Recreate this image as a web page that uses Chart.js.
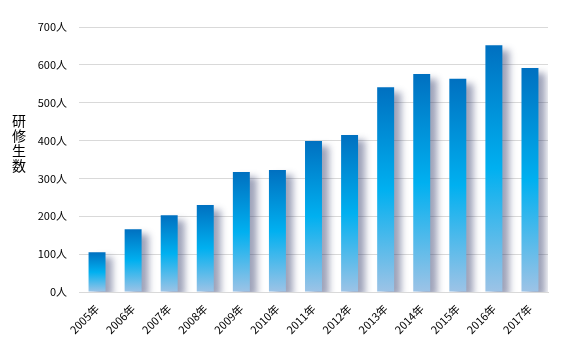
<!DOCTYPE html>
<html>
<head>
<meta charset="utf-8">
<script src="https://cdn.jsdelivr.net/npm/chart.js@4"></script>
<style>
  html, body { margin: 0; padding: 0; background: #fff; }
  #wrap { width: 564px; height: 345px; }
</style>
</head>
<body>
<div id="wrap"><canvas id="bar_chart" width="564" height="345"></canvas></div>
<script>
"use strict";

// data
var years = ["2005年", "2006年", "2007年", "2008年", "2009年", "2010年", "2011年",
             "2012年", "2013年", "2014年", "2015年", "2016年", "2017年"];
var trainees = [105, 166, 203, 230, 317, 322, 399, 415, 541, 576, 563, 652, 592];
var yTicks = [0, 100, 200, 300, 400, 500, 600, 700];
var yTitle = ["研", "修", "生", "数"];

var FONT = "'Noto Sans CJK JP', 'Noto Sans', sans-serif";

/*-- gradient per bar, from the bar's own top to the zero line --*/
function barGradient(ctx) {
  var chart = ctx.chart;
  if (!chart.chartArea || ctx.dataIndex === undefined) return '#00b0f0';
  var y = chart.scales.y;
  var top = y.getPixelForValue(trainees[ctx.dataIndex]);
  var bottom = y.getPixelForValue(0);
  var g = chart.ctx.createLinearGradient(0, top, 0, bottom);
  g.addColorStop(0, '#0070c0');
  g.addColorStop(0.5, '#00b0f0');
  g.addColorStop(1, '#9dc3e6');
  return g;
}

/*-- soft shadow to the right of the bars --*/
var barShadow = {
  id: 'barShadow',
  beforeDatasetDraw: function (chart) {
    var c = chart.ctx;
    c.save();
    c.shadowColor = 'rgba(40, 50, 100, 0.45)';
    c.shadowBlur = 7;
    c.shadowOffsetX = 7;
    c.shadowOffsetY = 5;
  },
  afterDatasetDraw: function (chart) {
    chart.ctx.restore();
  }
};

/*-- stacked vertical axis title --*/
var stackedTitle = {
  id: 'stackedTitle',
  afterDraw: function (chart) {
    var c = chart.ctx;
    c.save();
    c.font = "14px " + FONT;
    c.fillStyle = '#000';
    c.textAlign = 'center';
    c.textBaseline = 'middle';
    for (var i = 0; i < yTitle.length; i++) {
      c.fillText(yTitle[i], 19, 121 + i * 15);
    }
    c.restore();
  }
};

new Chart(document.getElementById("bar_chart").getContext("2d"), {
  type: 'bar',
  data: {
    labels: years,
    datasets: [{
      label: "研修生数",
      data: trainees,
      backgroundColor: barGradient,
      borderWidth: 0,
      barPercentage: 0.47,
      categoryPercentage: 1
    }]
  },
  options: {
    responsive: false,
    animation: false,
    layout: { padding: { left: 30, right: 16, top: 27, bottom: 0 } },
    plugins: {
      legend: { display: false },
      tooltip: { enabled: false }
    },
    scales: {
      x: {
        grid: { display: false },
        border: { display: true, color: '#d9d9d9' },
        ticks: {
          color: '#000',
          font: { family: FONT, size: 11 },
          minRotation: 45,
          maxRotation: 45,
          padding: 2
        },
        afterFit: function (scale) { scale.height = 53; }
      },
      y: {
        min: 0,
        max: 700,
        border: { display: false },
        grid: { color: '#d9d9d9', drawTicks: false },
        afterBuildTicks: function (scale) {
          scale.ticks = yTicks.map(function (v) { return { value: v }; });
        },
        ticks: {
          color: '#000',
          font: { family: FONT, size: 11 },
          padding: 12,
          callback: function (v) { return v + '人'; }
        },
        afterFit: function (scale) { scale.width = 49; }
      }
    }
  },
  plugins: [barShadow, stackedTitle]
});
</script>
</body>
</html>
